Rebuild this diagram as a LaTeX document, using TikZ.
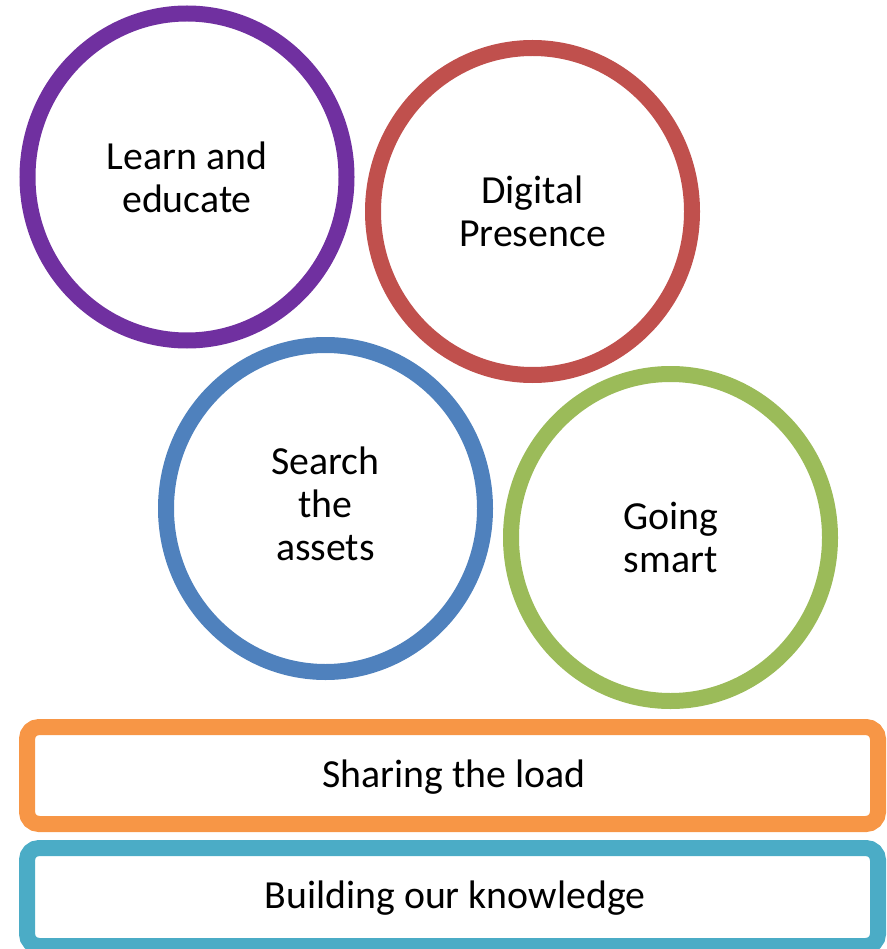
\documentclass[tikz,border=0pt]{standalone}
\usepackage{fontspec}
\setmainfont{Carlito}
\usetikzlibrary{shapes.geometric}
\definecolor{cpurple}{HTML}{7030A0}
\definecolor{cred}{HTML}{C0504D}
\definecolor{cblue}{HTML}{4F81BD}
\definecolor{cgreen}{HTML}{9BBB59}
\definecolor{corange}{HTML}{F79646}
\definecolor{ccyan}{HTML}{4BACC6}
\tikzset{
  ring/.style={ellipse, draw=#1, line width=16pt, minimum width=319pt, minimum height=327pt,
    inner sep=0pt, align=center, font=\fontsize{39.8}{43}\selectfont},
  bar/.style={draw=#1, line width=16pt, rounded corners=12pt, inner sep=0pt},
  bartext/.style={font=\fontsize{39.8}{43}\selectfont},
  ringtext/.style={align=center, inner sep=0pt, font=\fontsize{39.8}{43}\selectfont}
}
\begin{document}
\begin{tikzpicture}[x=1pt,y=-1pt]
\useasboundingbox (0,0) rectangle (886,949);
\node[ring=cpurple] (learn) at (187,177) {Learn and\\educate};
\node[ring=cred] (digital) at (532.5,211.5) {Digital\\Presence};
\node[ring=cblue] (search) at (325.5,508.5) {};
\node[ringtext] (searchtext) at (325.5,503.5) {Search\\the\\assets};
\node[ring=cgreen] (going) at (670.5,537.5) {Going\\smart};
\draw[bar=corange] (27,727) rectangle (878,824);
\node[bartext] (share) at (454,777) {Sharing the load};
\draw[bar=ccyan] (27,848) rectangle (878,946);
\node[bartext] (build) at (455,898) {Building our knowledge};
\end{tikzpicture}
\end{document}
